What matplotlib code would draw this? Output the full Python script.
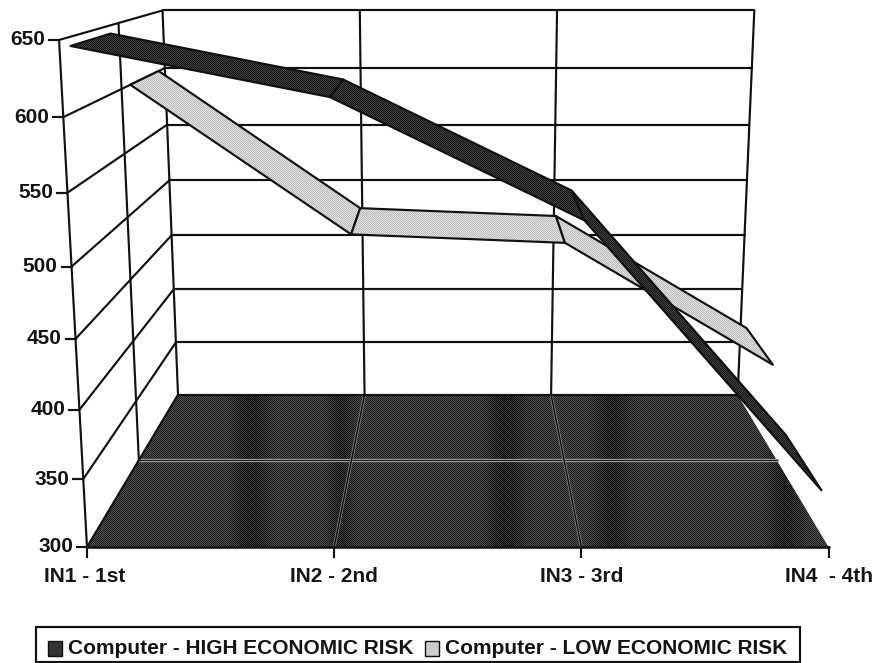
import numpy as np
import matplotlib
matplotlib.use("Agg")
import matplotlib.pyplot as plt
from matplotlib.patches import Polygon, Rectangle

plt.rcParams['font.family'] = ['Liberation Sans', 'DejaVu Sans']

categories = ["IN1 - 1st", "IN2 - 2nd", "IN3 - 3rd", "IN4  - 4th"]
high_risk = [644, 610, 526, 331]
low_risk = [600, 480, 473, 371]
value_ticks = [300, 350, 400, 450, 500, 550, 600, 650]
legend_labels = ["Computer - HIGH ECONOMIC RISK", "Computer - LOW ECONOMIC RISK"]

VMIN, VMAX = 300.0, 650.0
BLACK = "#111111"
LW = 1.55
FS = 15


def project(c, value, d):
    """Perspective view of the 3-D chart box: category, value, depth -> picture."""
    v = (value - VMIN) / (VMAX - VMIN)
    w = 1 + 0.325 * d - 0.072 * v
    x = 87 + 247.17 * c + 148.85 * d - 32.2 * v
    y = 547 - 24.0 * d - 509.9 * v
    return x / w, y / w


fig = plt.figure(figsize=(8.76, 6.63), dpi=100)
ax = fig.add_axes([0, 0, 1, 1])
ax.axis("off")

yy, xx = np.mgrid[0:663, 0:876]
checker = ((xx + yy) % 2) * 2.0 - 1.0


def textured(points, level, amp, z, bands=None):
    img = level + amp * checker
    if bands is not None:
        img = img + bands
    im = ax.imshow(np.clip(img, 0, 1), cmap="gray", vmin=0, vmax=1, extent=(0, 876, 663, 0),
                   interpolation="nearest", aspect="auto", zorder=z)
    poly = Polygon(points, closed=True, transform=ax.transData, facecolor="none", edgecolor="none")
    ax.add_patch(poly)
    im.set_clip_path(poly)


def line(p, q, color=BLACK, lw=LW, z=3):
    ax.plot([p[0], q[0]], [p[1], q[1]], color=color, lw=lw, zorder=z, solid_capstyle="round")


# floor
band_shade = np.zeros_like(xx, dtype=float)
for cx, wid, amt in [(250, 16, 0.10), (340, 12, 0.08), (505, 16, 0.11), (612, 16, 0.09), (785, 16, 0.10)]:
    band_shade -= amt * np.exp(-((xx - cx) / wid) ** 2)
floor = [project(0, VMIN, 0), project(3, VMIN, 0), project(3, VMIN, 1), project(0, VMIN, 1)]
textured(floor, 0.22, 0.10, 2, band_shade)

# floor grid
line(project(0, VMIN, .5), project(3, VMIN, .5), "#9a9a9a", 2.4, 3)
line(project(0, VMIN, .5), project(3, VMIN, .5), "#222222", 0.8, 3)
for c in (1, 2):
    line(project(c, VMIN, 0), project(c, VMIN, 1), "#8a8a8a", 2.1, 3)
    line(project(c, VMIN, 0), project(c, VMIN, 1), "#111111", 1.1, 3)

# back wall and left wall grid
for val in value_ticks:
    line(project(0, val, 1), project(3, val, 1))
    line(project(0, val, 0), project(0, val, 1))
for c in range(4):
    line(project(c, VMIN, 1), project(c, VMAX, 1))
line(project(0, VMIN, .5), project(0, VMAX, .5))
line(project(0, VMIN, 0), project(0, VMAX, 0))
line(project(0, VMIN, 0), project(3, VMIN, 0), BLACK, LW + .3, 4)

# ticks and tick labels
for val in value_ticks:
    px, py = project(0, val, 0)
    ax.plot([px - 10, px], [py, py], color=BLACK, lw=LW, zorder=4)
    ax.text(px - 14, py, str(val), ha="right", va="center", fontsize=FS, fontweight="bold", color="#141414")
for c, lab in enumerate(categories):
    px, py = project(c, VMIN, 0)
    ax.plot([px, px], [py, py + 10], color=BLACK, lw=LW, zorder=4)
    ax.text(px - 2 if c == 0 else px, py + 29, lab, ha="center", va="center", fontsize=FS, fontweight="bold", color="#141414")


# ribbons: the back series first
def ribbon_layer(values, d0, d1, level, amp, z):
    for c in range(len(values) - 1):
        quad = [project(c, values[c], d0), project(c + 1, values[c + 1], d0),
                project(c + 1, values[c + 1], d1), project(c, values[c], d1)]
        textured(quad, level, amp, z + c * .1)
        ax.add_patch(Polygon(quad, closed=True, facecolor="none", edgecolor=BLACK, lw=LW,
                             zorder=z + c * .1 + .05, joinstyle="round"))


ribbon_layer(low_risk, 0.59, 0.92, 0.81, 0.08, 5)
ribbon_layer(high_risk, 0.08, 0.42, 0.17, 0.09, 7)

# legend
ax.add_patch(Rectangle((36, 627), 764, 35, facecolor="white", edgecolor=BLACK, lw=LW, zorder=8))
ax.add_patch(Rectangle((48, 641), 14, 15, facecolor="#333333", edgecolor=BLACK, lw=1.0, zorder=9))
ax.text(68, 648, legend_labels[0], ha="left", va="center", fontsize=FS, fontweight="bold", color="#141414", zorder=9)
ax.add_patch(Rectangle((425, 641), 14, 15, facecolor="#cccccc", edgecolor=BLACK, lw=1.0, zorder=9))
ax.text(445, 648, legend_labels[1], ha="left", va="center", fontsize=FS, fontweight="bold", color="#141414", zorder=9)

ax.set_xlim(0, 876)
ax.set_ylim(663, 0)
fig.savefig("out.png", dpi=100)
